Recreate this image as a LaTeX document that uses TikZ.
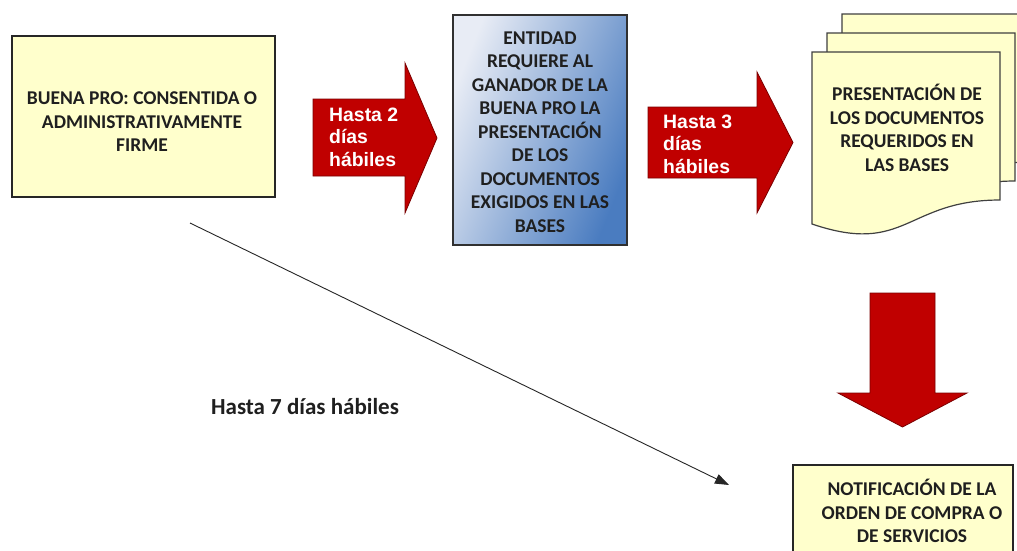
\documentclass[tikz,border=0pt]{standalone}
\usepackage{fontspec}
\setmainfont{Carlito}
\newfontfamily\arialf{Liberation Sans}
\usetikzlibrary{arrows.meta}
\definecolor{boxyellow}{HTML}{FFFFCC}
\definecolor{arrowred}{HTML}{C00000}
\definecolor{arrowedge}{HTML}{7A0000}
\definecolor{blueL}{HTML}{E8ECF5}
\definecolor{blueD}{HTML}{4A7CC0}
\definecolor{edgegray}{HTML}{303030}
\tikzset{
  boxtext/.style={font=\bfseries\fontsize{19.5}{23.5}\selectfont, align=center, text=black!88, inner sep=0pt},
  arrowtext/.style={font=\arialf\bfseries\fontsize{19.4}{22.5}\selectfont, align=left, text=white, inner sep=0pt, anchor=west},
  blockarrow/.style={fill=arrowred, draw=arrowedge, line width=0.8pt, line join=miter},
  yellowbox/.style={rectangle, fill=boxyellow, draw=black!85, line width=1.3pt, inner sep=0pt},
  docpage/.style={fill=boxyellow, draw=black!75, line width=1.2pt, line join=miter},
  thinarrow/.style={-{Triangle[length=14pt,width=10pt]}, line width=0.9pt, draw=black!85},
  docshape/.pic={\draw[docpage] (0,0) -- (188,0) -- (188,148) .. controls (94,148) and (94,204) .. (0,172) -- cycle;}
}
\begin{document}
\begin{tikzpicture}[x=1pt,y=-1pt]
\useasboundingbox (0,0) rectangle (1017,550);
\fill[white] (0,0) rectangle (1017,550);
\clip (0,0) rectangle (1017,550);

% first box
\node[yellowbox, minimum width=263pt, minimum height=161pt] (buena) at (143.5,116.5) {};
\node[boxtext] (buenatext) at (142,122) {BUENA PRO: CONSENTIDA O\\ADMINISTRATIVAMENTE\\FIRME};

% first block arrow
\draw[blockarrow] (313,99) -- (405,99) -- (405,63) -- (437,138) -- (405,213) -- (405,176) -- (313,176) -- cycle;
\node[arrowtext] (dias2) at (329,137) {Hasta 2\\días\\hábiles};

% blue box
\node[rectangle, draw=edgegray, line width=1.3pt, top color=blueL, bottom color=blueD, shading angle=68,
      minimum width=174pt, minimum height=230pt, inner sep=0pt] (entidad) at (540,130) {};
\node[boxtext] (entidadtext) at (540,132) {ENTIDAD\\REQUIERE AL\\GANADOR DE LA\\BUENA PRO LA\\PRESENTACIÓN\\DE LOS\\DOCUMENTOS\\EXIGIDOS EN LAS\\BASES};

% second block arrow
\draw[blockarrow] (648,107) -- (757,107) -- (757,72) -- (793,142.5) -- (757,213) -- (757,178) -- (648,178) -- cycle;
\node[arrowtext] (dias3) at (663,144) {Hasta 3\\días\\hábiles};

% document stack
\pic at (842,14) {docshape};
\pic at (827,33) {docshape};
\pic at (812,52) {docshape};
\node[boxtext] (presentacion) at (907,128) {PRESENTACIÓN DE\\LOS DOCUMENTOS\\REQUERIDOS EN\\LAS BASES};

% down block arrow
\draw[blockarrow] (870,293) -- (935,293) -- (935,393) -- (967,393) -- (902.5,427) -- (838,393) -- (870,393) -- cycle;

% bottom box
\node[yellowbox, minimum width=220pt, minimum height=110pt] (notif) at (903,520) {};
\node[boxtext] (notiftext) at (912,511) {NOTIFICACIÓN DE LA\\ORDEN DE COMPRA O\\DE SERVICIOS};

% thin arrow
\coordinate (from) at (190,223);
\coordinate (to) at (729,485);
\draw[thinarrow] (from) -- (to);
\node[font=\bfseries\fontsize{23}{27}\selectfont, text=black!88, inner sep=0pt] (siete) at (305,407) {Hasta 7 días hábiles};
\end{tikzpicture}
\end{document}
